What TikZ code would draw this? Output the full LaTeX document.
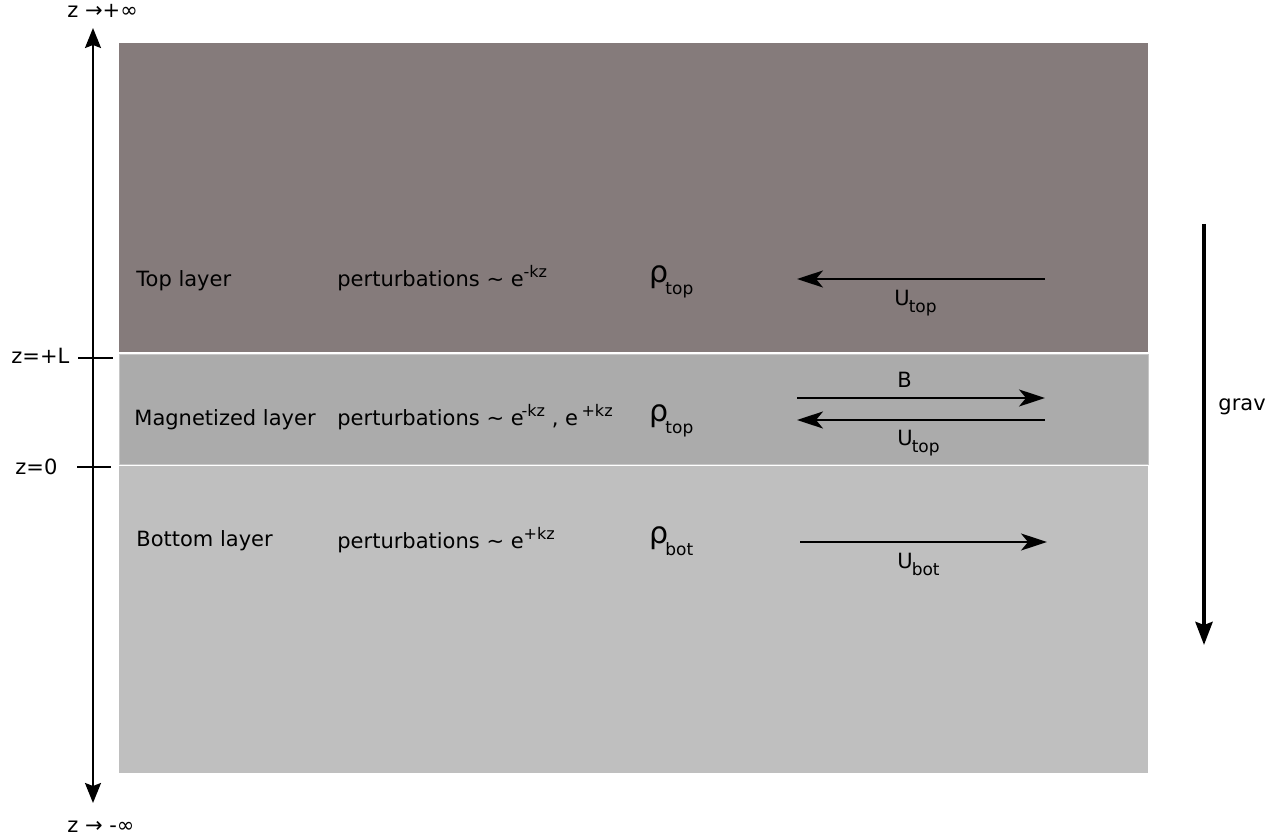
\documentclass[tikz,border=0pt]{standalone}
\usepackage{fontspec}
\setmainfont{DejaVu Sans}
\usetikzlibrary{arrows.meta}
\definecolor{toplayer}{HTML}{857B7B}
\definecolor{maglayer}{HTML}{ABABAB}
\definecolor{botlayer}{HTML}{BFBFBF}
\definecolor{magedge}{HTML}{C6C6C6}
\newcommand{\upx}[1]{\raisebox{4.5pt}{\fontsize{8}{9}\selectfont #1}}
\newcommand{\dnrho}[1]{\kern-1.5pt\raisebox{-6pt}{\fontsize{8.5}{9}\selectfont #1}}
\newcommand{\dnU}[1]{\kern-0.5pt\raisebox{-3.5pt}{\fontsize{8.5}{9}\selectfont #1}}
\tikzset{
  txt/.style={inner sep=0pt, anchor=base west, font=\fontsize{10.5}{12.6}\selectfont},
  rho/.style={inner sep=0pt, anchor=base west, font=\fontsize{15}{17}\selectfont},
  flow/.style={draw=black, line width=1pt, -{Stealth[length=13pt,width=8.5pt,inset=3.5pt]}},
  zaxis/.style={draw=black, line width=1pt, {Stealth[length=10pt,width=8pt,inset=1.5pt]}-{Stealth[length=10pt,width=8pt,inset=1.5pt]}},
  tick/.style={draw=black, line width=1pt},
  gravity/.style={draw=black, line width=2pt, -{Stealth[length=11.5pt,width=8.5pt,inset=1.5pt]}},
}

\begin{document}
\begin{tikzpicture}[x=0.5pt,y=-0.5pt]
  \useasboundingbox (0,0) rectangle (1273,839);

  % the three layers
  \fill[toplayer] (119,43) rectangle (1148,352);
  \filldraw[fill=maglayer, draw=magedge, line width=0.5pt] (119,355) rectangle (1148,464);
  \fill[botlayer] (119,466) rectangle (1148,773);

  % z axis
  \coordinate (zup) at (93,28);
  \coordinate (zdown) at (93,803);
  \draw[zaxis] (zdown) -- (zup);
  \node[txt] (zplus) at (67,18) {z →+∞};
  \node[txt] (zminus) at (67,832) {z → -∞};

  \coordinate (Lleft) at (78,358);
  \coordinate (Lright) at (113,358);
  \draw[tick] (Lleft) -- (Lright);
  \node[txt] (zL) at (11,364) {z=+L};
  \coordinate (Oleft) at (77,467);
  \coordinate (Oright) at (111,467);
  \draw[tick] (Oleft) -- (Oright);
  \node[txt] (zO) at (15,474) {z=0};

  % layer names
  \node[txt] (toplbl) at (136,287) {Top layer};
  \node[txt] (maglbl) at (134,425) {Magnetized layer};
  \node[txt] (botlbl) at (136,546) {Bottom layer};

  % perturbations
  \node[txt] (toppert) at (337,287) {perturbations \textasciitilde{} e\upx{-kz}};
  \node[txt] (magpert) at (337,425) {perturbations \textasciitilde{} e\kern-1pt\upx{-kz} , e\,\upx{+kz}};
  \node[txt] (botpert) at (337,548) {perturbations \textasciitilde{} e\upx{+kz}};

  % densities
  \node[rho] (toprho) at (649,283) {ρ\dnrho{top}};
  \node[rho] (magrho) at (649,421) {ρ\dnrho{top}};
  \node[rho] (botrho) at (649,543) {ρ\dnrho{bot}};

  % flows and field
  \coordinate (topUr) at (1045,279);
  \coordinate (topUl) at (797,279);
  \draw[flow] (topUr) -- (topUl);
  \node[txt] (topU) at (894,306) {U\dnU{top}};

  \coordinate (Bl) at (797,398);
  \coordinate (Br) at (1045,398);
  \draw[flow] (Bl) -- (Br);
  \node[txt] (Blbl) at (897,387) {B};
  \coordinate (magUr) at (1045,420);
  \coordinate (magUl) at (797,420);
  \draw[flow] (magUr) -- (magUl);
  \node[txt] (magU) at (897,445) {U\dnU{top}};

  \coordinate (botUl) at (800,542);
  \coordinate (botUr) at (1047,542);
  \draw[flow] (botUl) -- (botUr);
  \node[txt] (botU) at (897,568) {U\dnU{bot}};

  % gravity
  \coordinate (gravtop) at (1204,224);
  \coordinate (gravbot) at (1204,645);
  \draw[gravity] (gravtop) -- (gravbot);
  \node[txt] (gravlbl) at (1218,410) {grav};
\end{tikzpicture}
\end{document}
